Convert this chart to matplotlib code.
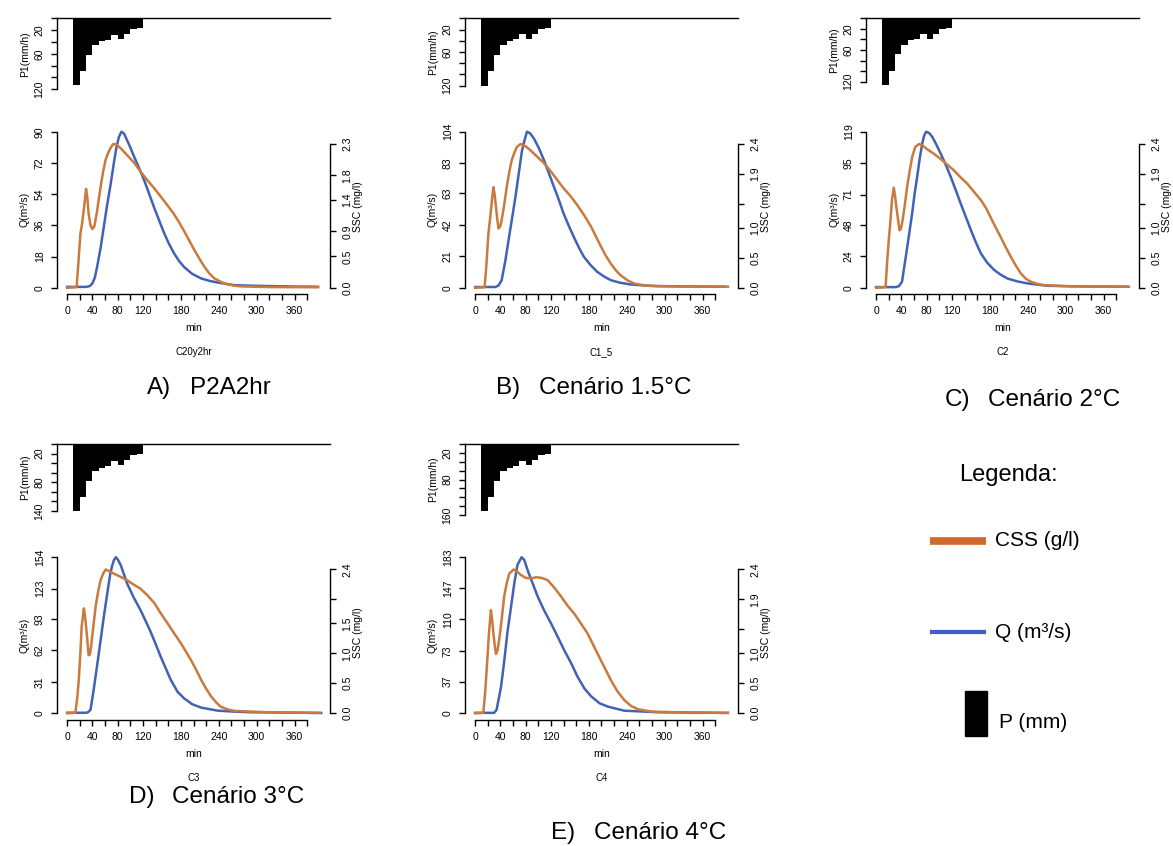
import matplotlib
matplotlib.use("Agg")
import matplotlib.pyplot as plt

plt.rcParams["font.family"] = ["Liberation Sans", "DejaVu Sans"]

# ---- data ----
rain_t = [10, 20, 30, 40, 50, 60, 70, 80, 90, 100, 110]  # bar start (min), 10-min blocks
rain_a = [112, 89, 62, 45, 39, 36.5, 28, 35.5, 26.5, 18, 17]
rain_b = [120, 94, 65, 47.5, 40, 37.4, 28.5, 37.4, 28, 19, 17.8]
rain_c = [126, 100, 68, 50.5, 42, 40, 30, 40, 29.7, 20, 19]
rain_d = [140, 111, 76.6, 55.7, 50.8, 46, 34.8, 44.6, 33.4, 23, 21.6]
rain_e = [151, 120, 82.6, 60, 54.8, 49.6, 37.6, 48, 36, 24.8, 23.3]

t_q_a = [0, 30, 36, 40, 44, 48, 53, 58, 63, 69, 74, 78, 82, 86, 90, 95, 100, 106, 114, 122,
         130, 138, 146, 153, 161, 169, 177, 185, 198, 212, 225, 238, 252, 265, 290, 317, 360, 397]
q_a = [0.5, 0.5, 1.0, 2.5, 6, 13, 23, 35, 47, 60, 72, 81, 87, 90, 89, 85, 81, 75.6, 69, 62,
       54, 46, 38.5, 32, 25.5, 20, 15.5, 12, 8, 5.4, 4, 3, 2.2, 1.5, 1.2, 1.0, 0.7, 0.6]
t_s_a = [0, 15, 18, 21, 24, 27, 30, 32, 34, 37, 40, 43, 47, 53, 57, 61, 65, 69, 73, 78, 85, 95,
         106, 116, 127, 138, 148, 158, 169, 177, 185, 193, 201, 209, 217, 225, 233, 244, 254,
         265, 275, 320, 397]
s_a = [0, 0.01, 0.42, 0.86, 1.05, 1.30, 1.58, 1.44, 1.19, 1.00, 0.94, 0.98, 1.20, 1.61, 1.86,
       2.05, 2.16, 2.24, 2.30, 2.29, 2.23, 2.12, 2.00, 1.86, 1.72, 1.59, 1.46, 1.33, 1.18, 1.05,
       0.91, 0.76, 0.61, 0.47, 0.34, 0.23, 0.15, 0.09, 0.055, 0.033, 0.022, 0.011, 0.008]

t_q_b = [0, 32, 37, 42, 48, 53, 58, 64, 69, 74, 78, 82, 87, 93, 101, 109, 117, 125, 133, 140,
         148, 156, 164, 172, 183, 193, 204, 215, 230, 246, 270, 289, 340, 395]
q_b = [0.5, 0.5, 1.5, 5, 18.4, 32, 45, 61, 76, 91, 98, 104, 103, 99.5, 93, 85, 76, 67, 58, 49.5,
       41.5, 34, 27, 20.7, 15, 10.7, 7.5, 5, 3.3, 2.2, 1.5, 1.1, 0.9, 0.7]
t_s_b = [0, 15, 18, 21, 24, 26.5, 29, 31, 33, 35, 37, 40, 42, 46, 50, 54, 58, 62, 66, 72, 80,
         87, 98, 109, 120, 130, 140, 151, 161, 172, 183, 191, 199, 207, 215, 222, 230, 241, 252,
         265, 278, 330, 400]
s_b = [0, 0.01, 0.40, 0.90, 1.18, 1.45, 1.68, 1.55, 1.35, 1.15, 0.99, 1.03, 1.13, 1.38, 1.68,
       1.93, 2.13, 2.25, 2.35, 2.40, 2.36, 2.30, 2.19, 2.08, 1.94, 1.80, 1.66, 1.53, 1.39, 1.22,
       1.03, 0.86, 0.69, 0.53, 0.40, 0.30, 0.21, 0.125, 0.07, 0.045, 0.03, 0.02, 0.018]

t_q_c = [0, 31, 36, 41, 47, 52, 57, 61, 65, 69, 73, 76, 79, 84, 89, 95, 102, 110, 118, 126, 134,
         142, 150, 158, 166, 176, 187, 197, 208, 224, 240, 271, 330, 398]
q_c = [0.5, 0.5, 1.2, 4.6, 23.7, 40, 56.7, 72, 84.7, 98.6, 110, 116, 119, 118, 115, 109.5, 102.5,
       94, 84.7, 74.5, 64, 54, 44, 34.5, 26, 19, 13.5, 10, 7, 4.8, 3.3, 1.5, 1.0, 0.8]
t_s_c = [0, 15, 17.5, 20, 22.5, 25, 28, 30, 32, 34.5, 37, 39, 41, 45, 49, 53, 57, 62, 68, 74, 81,
         91, 102, 112, 123, 133, 144, 155, 166, 174, 181, 189, 197, 205, 213, 221, 229, 237, 245,
         255, 266, 300, 400]
s_c = [0, 0.011, 0.44, 0.79, 1.09, 1.46, 1.67, 1.53, 1.35, 1.16, 0.96, 0.98, 1.07, 1.35, 1.68,
       1.94, 2.18, 2.35, 2.40, 2.37, 2.31, 2.24, 2.15, 2.06, 1.96, 1.85, 1.74, 1.60, 1.46, 1.33,
       1.18, 1.01, 0.85, 0.68, 0.52, 0.37, 0.24, 0.15, 0.10, 0.065, 0.044, 0.026, 0.017]

t_q_d = [0, 30, 33, 37, 42, 47.6, 53, 58, 63.5, 68, 71, 74, 77, 80, 85, 90, 95, 106, 116, 124,
         132, 140, 148, 156, 164, 175, 185, 198, 212, 238, 265, 291, 402]
q_d = [0.5, 0.5, 1, 3.3, 23, 47.7, 72, 95, 118, 136.6, 145, 151, 154, 152, 146, 137, 128, 113.5,
       102, 91.5, 80.6, 68.5, 56, 44.5, 33, 21, 14.8, 8.9, 5.6, 2.6, 1.6, 1.0, 0.3]
t_s_d = [0, 13, 16, 18.5, 21, 23, 26.5, 28.5, 31, 34, 36, 38, 41, 45, 49, 53, 57, 61, 67, 74, 84,
         95, 105, 116, 127, 138, 148, 159, 169, 180, 188, 196, 204, 212, 220, 228, 236, 243, 254,
         265, 317, 400]
s_d = [0, 0.008, 0.25, 0.56, 1.01, 1.44, 1.75, 1.61, 1.34, 0.97, 0.98, 1.12, 1.40, 1.77, 2.03,
       2.22, 2.33, 2.40, 2.37, 2.33, 2.28, 2.22, 2.15, 2.08, 1.97, 1.84, 1.67, 1.50, 1.34, 1.17,
       1.03, 0.89, 0.73, 0.56, 0.41, 0.28, 0.18, 0.11, 0.064, 0.039, 0.017, 0.005]

t_q_e = [0, 30, 34, 41, 46, 51, 56.5, 62, 67, 73.5, 77.7, 83, 91, 99, 109, 120, 130.5, 141, 152,
         162, 173, 184, 197, 210, 236, 289, 400]
q_e = [0.5, 0.5, 4, 31, 60.6, 94, 123, 152.5, 174, 183, 180, 168, 152.5, 137, 121, 105.6, 90, 74,
       58.7, 43, 29, 19.6, 11.7, 7.8, 3, 1.2, 0.4]
t_s_e = [0, 13, 16, 19.6, 22, 25, 27, 29, 31, 33, 35.5, 38, 42, 46, 50, 54, 61, 66, 72, 80, 88,
         97, 105, 115, 125, 136, 146, 157, 168, 178, 186, 194, 204, 215, 225, 236, 247, 258, 279,
         330, 400]
s_e = [0, 0.007, 0.36, 0.94, 1.35, 1.72, 1.56, 1.33, 1.14, 0.99, 1.05, 1.22, 1.56, 1.95, 2.17,
       2.33, 2.40, 2.37, 2.31, 2.26, 2.25, 2.27, 2.26, 2.22, 2.10, 1.95, 1.80, 1.66, 1.49, 1.33,
       1.16, 0.99, 0.78, 0.55, 0.37, 0.22, 0.12, 0.067, 0.028, 0.014, 0.006]

q_ticks = [[0, 18, 36, 54, 72, 90], [0, 21, 42, 63, 83, 104], [0, 24, 48, 71, 95, 119],
           [0, 31, 62, 93, 123, 154], [0, 37, 73, 110, 147, 183]]
ssc_ticks = [[0, 0.5, 0.9, 1.4, 1.8, 2.3], [0, 0.5, 1.0, 1.4, 1.9, 2.4],
             [0, 0.5, 1.0, 1.4, 1.9, 2.4], [0, 0.5, 1.0, 1.5, 1.9, 2.4],
             [0, 0.5, 1.0, 1.4, 1.9, 2.4]]
ssc_labels = [["0.0", "0.5", "0.9", "1.4", "1.8", "2.3"], ["0.0", "0.5", "1.0", "", "1.9", "2.4"],
              ["0.0", "0.5", "1.0", "", "1.9", "2.4"], ["0.0", "0.5", "1.0", "1.5", "", "2.4"],
              ["0.0", "0.5", "1.0", "", "1.9", "2.4"]]
rain_max = [120, 120, 120, 140, 160]
rain_labels = [[20, 60, 120], [20, 60, 120], [20, 60, 120], [20, 80, 140], [20, 80, 160]]
x_labels = [0, 40, 80, 120, 180, 240, 300, 360]
run_names = ["C20y2hr", "C1_5", "C2", "C3", "C4"]
cap_letters = ["A)", "B)", "C)", "D)", "E)"]
cap_names = ["P2A2hr", "Cenário 1.5°C", "Cenário 2°C", "Cenário 3°C", "Cenário 4°C"]

rains = [rain_a, rain_b, rain_c, rain_d, rain_e]
q_series = [(t_q_a, q_a), (t_q_b, q_b), (t_q_c, q_c), (t_q_d, q_d), (t_q_e, q_e)]
s_series = [(t_s_a, s_a), (t_s_b, s_b), (t_s_c, s_c), (t_s_d, s_d), (t_s_e, s_e)]

# ---- layout (pixels) ----
W, H = 1173, 846
panel_x = [57, 465, 866, 57, 465]
rain_top = [18.3, 18.3, 18.3, 444, 444]
rain_bot = [89.3, 85.7, 81.7, 511, 515]
low_top = [125.5, 125.5, 125.5, 551, 551]
low_bot = [294, 294, 294, 719.5, 719.5]
caption_pos = [(147, 388), (496, 388), (945, 400), (129, 797), (551, 833)]
PW = 273

BLUE = "#4262b4"
ORANGE = "#c97a3c"
TICK_FS = 7.5
LW_AX = 1.0

fig = plt.figure(figsize=(W / 100, H / 100), dpi=100)


def rect(x0, y0, x1, y1):
    return [x0 / W, 1 - y1 / H, (x1 - x0) / W, (y1 - y0) / H]


def ftext(x, y, s, **kw):
    fig.text(x / W, 1 - y / H, s, **kw)


for i in range(5):
    x0 = panel_x[i]
    x1 = x0 + PW

    # rainfall hyetograph, hanging from the top
    ar = fig.add_axes(rect(x0, rain_top[i], x1, rain_bot[i]))
    ar.bar(rain_t, rains[i], width=10, align="edge", color="black", clip_on=False)
    ar.set_xlim(-16, 416)
    ar.set_ylim(rain_max[i], 0)
    for s in ["right", "bottom"]:
        ar.spines[s].set_visible(False)
    ar.spines["top"].set_linewidth(LW_AX)
    ar.spines["left"].set_linewidth(LW_AX)
    ar.set_xticks([])
    ar.set_yticks(range(0, rain_max[i] + 1, 20))
    ar.set_yticklabels([str(v) if v in rain_labels[i] else "" for v in range(0, rain_max[i] + 1, 20)],
                       rotation=90, va="center", fontsize=TICK_FS)
    ar.tick_params(axis="y", length=4.3, width=LW_AX, pad=5)
    ftext(x0 - 32, (rain_top[i] + rain_bot[i]) / 2, "P1(mm/h)", rotation=90,
          ha="center", va="center", fontsize=TICK_FS)

    # discharge
    ax = fig.add_axes(rect(x0, low_top[i], x1, low_bot[i]))
    qmax = q_ticks[i][-1]
    tq, qv = q_series[i]
    ax.plot(tq, qv, color=BLUE, lw=1.8, solid_joinstyle="round")
    ax.set_xlim(-16, 416)
    ax.set_ylim(-0.04 * qmax, 1.04 * qmax)
    for s in ["right", "top"]:
        ax.spines[s].set_visible(False)
    ax.spines["left"].set_bounds(0, qmax)
    ax.spines["bottom"].set_bounds(0, 380)
    ax.spines["left"].set_linewidth(LW_AX)
    ax.spines["bottom"].set_linewidth(LW_AX)
    ax.set_yticks(q_ticks[i])
    ax.set_yticklabels([str(v) for v in q_ticks[i]], rotation=90, va="center", fontsize=TICK_FS)
    ax.set_xticks(range(0, 381, 20))
    ax.set_xticklabels([str(v) if v in x_labels else "" for v in range(0, 381, 20)], fontsize=TICK_FS)
    ax.tick_params(length=4.3, width=LW_AX, pad=4.5)
    ax.patch.set_alpha(0)

    # suspended sediment concentration, own scale on the right
    a2 = ax.twinx()
    ts, sv = s_series[i]
    top = max(sv) * 1.085
    a2.plot(ts, sv, color=ORANGE, lw=1.8, solid_joinstyle="round")
    a2.set_ylim(-0.04 * top, 1.04 * top)
    for s in ["left", "top", "bottom"]:
        a2.spines[s].set_visible(False)
    a2.spines["right"].set_bounds(0, ssc_ticks[i][-1])
    a2.spines["right"].set_linewidth(LW_AX)
    a2.set_yticks(ssc_ticks[i])
    a2.set_yticklabels(ssc_labels[i], rotation=90, va="center", fontsize=TICK_FS)
    a2.tick_params(length=4.3, width=LW_AX, pad=4.5)

    ymid = (low_top[i] + low_bot[i]) / 2
    ftext(x0 - 32, ymid, "Q(m³/s)", rotation=90, ha="center", va="center", fontsize=TICK_FS)
    ftext(x1 + 28, ymid - 3, "SSC (mg/l)", rotation=90, ha="center", va="center", fontsize=TICK_FS)
    ftext(x0 + PW / 2, low_bot[i] + 34, "min", ha="center", va="center", fontsize=TICK_FS)
    ftext(x0 + PW / 2, low_bot[i] + 58, run_names[i], ha="center", va="center", fontsize=7)

    cx, cy = caption_pos[i]
    ftext(cx, cy, cap_letters[i], ha="left", va="center", fontsize=17.5)
    ftext(cx + 43, cy, cap_names[i], ha="left", va="center", fontsize=17.5)

# legend block
ftext(1008, 475, "Legenda:", ha="center", va="center", fontsize=17)
leg = fig.add_axes([0, 0, 1, 1])
leg.set_xlim(0, W)
leg.set_ylim(H, 0)
leg.axis("off")
leg.plot([930, 986], [541, 541], color="#d0682c", lw=5.5, solid_capstyle="butt")
leg.plot([930, 986], [632, 632], color="#3d5cc4", lw=3, solid_capstyle="butt")
leg.add_patch(plt.Rectangle((965, 691), 22, 45, color="black"))
ftext(995, 541, "CSS (g/l)", ha="left", va="center", fontsize=15)
ftext(995, 632, "Q (m³/s)", ha="left", va="center", fontsize=15)
ftext(999, 723, "P (mm)", ha="left", va="center", fontsize=15)

fig.savefig("out.png", dpi=100)
